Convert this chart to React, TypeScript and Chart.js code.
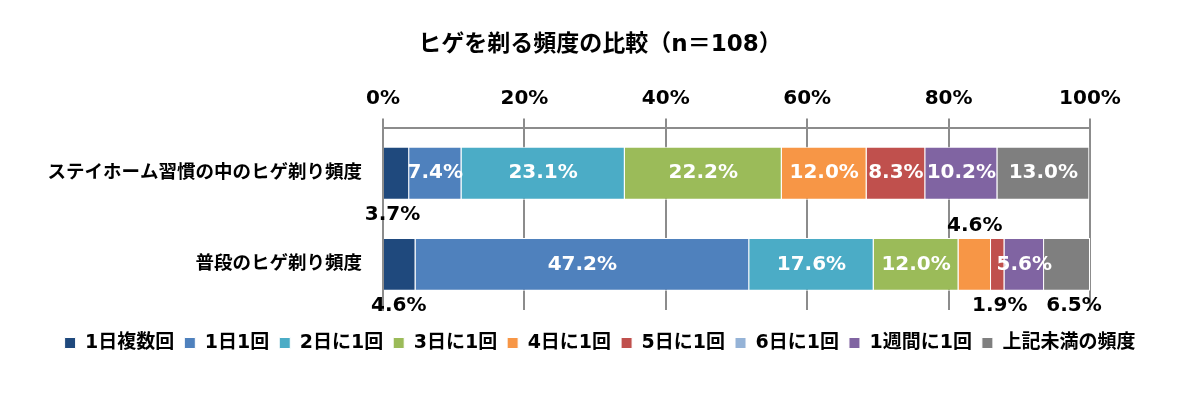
import React, { useEffect, useRef } from "react";
import { Chart, registerables } from "chart.js";

Chart.register(...registerables);

const FONT = '"DejaVu Sans", "Noto Sans CJK JP", sans-serif';

const chartTitle = "ヒゲを剃る頻度の比較（n＝108）";
const categories = ["ステイホーム習慣の中のヒゲ剃り頻度", "普段のヒゲ剃り頻度"];
const seriesNames = [
  "1日複数回",
  "1日1回",
  "2日に1回",
  "3日に1回",
  "4日に1回",
  "5日に1回",
  "6日に1回",
  "1週間に1回",
  "上記未満の頻度",
];
const multiplePerDay = [3.7, 4.6];
const oncePerDay = [7.4, 47.2];
const every2Days = [23.1, 17.6];
const every3Days = [22.2, 12.0];
const every4Days = [12.0, 4.6];
const every5Days = [8.3, 1.9];
const every6Days = [0, 0];
const oncePerWeek = [10.2, 5.6];
const lessOften = [13.0, 6.5];
const xTickValues = [0, 20, 40, 60, 80, 100];

const seriesValues = [
  multiplePerDay,
  oncePerDay,
  every2Days,
  every3Days,
  every4Days,
  every5Days,
  every6Days,
  oncePerWeek,
  lessOften,
];
const seriesColors = [
  "#1F497D",
  "#4F81BD",
  "#4BACC6",
  "#9BBB59",
  "#F79646",
  "#C0504D",
  "#95B3D7",
  "#8064A2",
  "#7F7F7F",
];

// label placement for small segments (style only): key = "series-row"
const outsideLabels: Record<string, { pos: "above" | "below"; dx: number }> = {
  "0-0": { pos: "below", dx: -4 },
  "0-1": { pos: "below", dx: -1 },
  "4-1": { pos: "above", dx: 0 },
  "5-1": { pos: "below", dx: 2 },
  "8-1": { pos: "below", dx: 7 },
};

const segmentLabels = {
  id: "segmentLabels",
  afterDatasetsDraw(chart: any) {
    const ctx = chart.ctx;
    ctx.save();
    ctx.font = `bold 20px ${FONT}`;
    ctx.textAlign = "center";
    ctx.textBaseline = "middle";
    chart.data.datasets.forEach((ds: any, di: number) => {
      const meta = chart.getDatasetMeta(di);
      meta.data.forEach((bar: any, ri: number) => {
        const v = ds.data[ri];
        if (!v) return;
        const { x, y, base, height } = bar.getProps(["x", "y", "base", "height"], true);
        let cx = (x + base) / 2;
        let cy = y;
        const place = outsideLabels[`${di}-${ri}`];
        if (place) {
          cx += place.dx;
          cy = place.pos === "above" ? y - height / 2 - 12 : y + height / 2 + 15;
          ctx.fillStyle = "#000";
        } else {
          ctx.fillStyle = "#fff";
        }
        ctx.fillText(v.toFixed(1) + "%", cx, cy);
      });
    });
    ctx.restore();
  },
};

export default function App() {
  const canvasRef = useRef<HTMLCanvasElement | null>(null);

  useEffect(() => {
    if (!canvasRef.current) return;
    Chart.defaults.font.family = FONT;
    Chart.defaults.color = "#000";
    const chart = new Chart(canvasRef.current, {
      type: "bar",
      data: {
        labels: categories,
        datasets: seriesNames.map((name, i) => ({
          label: name,
          data: seriesValues[i],
          xAxisID: "x",
          yAxisID: "y",
          backgroundColor: seriesColors[i],
          borderColor: "#ffffff",
          borderWidth: 1,
          barPercentage: 0.58,
          categoryPercentage: 1,
        })),
      },
      options: {
        indexAxis: "y",
        animation: false,
        responsive: true,
        maintainAspectRatio: false,
        layout: { padding: { left: 0, right: 0, top: 0, bottom: 37.5 } },
        plugins: {
          title: {
            display: true,
            text: chartTitle,
            color: "#000",
            font: { size: 23, weight: "bold", family: FONT },
            padding: { top: 31, bottom: 21 },
          },
          legend: {
            position: "bottom",
            labels: {
              boxWidth: 11,
              boxHeight: 11,
              padding: 10,
              color: "#000",
              font: { size: 19, weight: "bold", family: FONT },
            },
          },
          tooltip: { enabled: false },
        },
        scales: {
          x: {
            position: "top",
            stacked: true,
            min: 0,
            max: 100,
            afterBuildTicks: (s: any) => {
              s.ticks = xTickValues.map((v) => ({ value: v }));
            },
            ticks: {
              padding: 7.5,
              color: "#000",
              font: { size: 20, weight: "bold", family: FONT },
              callback: (v: any) => v + "%",
            },
            grid: {
              color: "#8c8c8c",
              lineWidth: 2,
              tickLength: 9,
              drawTicks: true,
            },
            border: { display: true, color: "#8c8c8c", width: 2 },
          },
          y: {
            stacked: true,
            ticks: {
              padding: 21,
              color: "#000",
              font: { size: 18.5, weight: "bold", family: FONT },
            },
            grid: { display: false, drawTicks: false },
            border: { display: true, color: "#8c8c8c", width: 2 },
            afterFit: (s: any) => {
              s.width = 383;
            },
          },
          spacer: {
            type: "linear",
            position: "bottom",
            axis: "x",
            display: true,
            ticks: { display: false },
            grid: { display: false, drawTicks: false },
            border: { display: false },
            afterFit: (s: any) => {
              s.height = 13.5;
            },
          },
          rightSpacer: {
            type: "linear",
            position: "right",
            axis: "y",
            display: true,
            ticks: { display: false },
            grid: { display: false, drawTicks: false },
            border: { display: false },
            afterFit: (s: any) => {
              s.width = 110;
            },
          },
        },
      } as any,
      plugins: [segmentLabels],
    });
    return () => chart.destroy();
  }, []);

  return (
    <div style={{ position: "absolute", left: 0, top: 0, width: 1200, height: 400, background: "#fff" }}>
      <canvas ref={canvasRef} />
    </div>
  );
}
